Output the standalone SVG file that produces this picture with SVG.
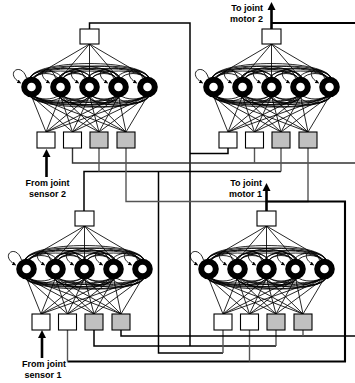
<svg xmlns="http://www.w3.org/2000/svg" xmlns:xlink="http://www.w3.org/1999/xlink" width="355" height="383" viewBox="0 0 355 383">
<style>
.bg{fill:#fff}
.box{fill:#fff;stroke:#000;stroke-width:1.1}
.gbox{fill:#c0c0c0;stroke:#000;stroke-width:1.1}
.neu{fill:#fff;stroke:#000;stroke-width:6}
.fan{fill:none;stroke:#000;stroke-width:0.85}
.arc{fill:none;stroke:#000;stroke-width:0.85}
.loop{fill:none;stroke:#000;stroke-width:0.85}
.w{fill:none;stroke:#000;stroke-width:1.5}
.wg{fill:none;stroke:#555;stroke-width:1.4}
.wd{fill:none;stroke:#333;stroke-width:1.4}
.wt{fill:none;stroke:#000;stroke-width:2.1}
.th{fill:none;stroke:#000;stroke-width:2.6}
.ah{fill:#000}
.lbl{font-family:"Liberation Sans",Arial,sans-serif;font-weight:bold;font-size:9px;fill:#000}
</style>
<defs>
<marker id="sa" viewBox="0 0 6 6" refX="5" refY="3" markerWidth="4" markerHeight="4" markerUnits="userSpaceOnUse" orient="auto">
<path d="M0,0 L6,3 L0,6 Z" fill="#000"/>
</marker>
<g id="net">
<!-- fan from output box to neurons -->
<path class="fan" d="M89.5,44 L31.5,78 M89.5,44 L60.5,78 M89.5,44 L89.5,78 M89.5,44 L118.5,78 M89.5,44 L147.5,78"/>
<!-- neurons to input boxes -->
<path class="fan" d="M31.5,96 L46,132 M31.5,96 L72.5,132 M31.5,96 L99,132 M31.5,96 L126,132
M60.5,96 L46,132 M60.5,96 L72.5,132 M60.5,96 L99,132 M60.5,96 L126,132
M89.5,96 L46,132 M89.5,96 L72.5,132 M89.5,96 L99,132 M89.5,96 L126,132
M118.5,96 L46,132 M118.5,96 L72.5,132 M118.5,96 L99,132 M118.5,96 L126,132
M147.5,96 L46,132 M147.5,96 L72.5,132 M147.5,96 L99,132 M147.5,96 L126,132"/>
<!-- upper recurrent arcs -->
<path class="arc" d="M33.5,79 C37.5,71.7 54.5,71.7 58.5,79 M33.5,79 C37.5,68.4 83.5,68.4 87.5,79 M33.5,79 C37.5,65 112.5,65 116.5,79 M33.5,79 C37.5,61.7 141.5,61.7 145.5,79
M62.5,79 C66.5,71.7 83.5,71.7 87.5,79 M62.5,79 C66.5,68.4 112.5,68.4 116.5,79 M62.5,79 C66.5,65 141.5,65 145.5,79
M91.5,79 C95.5,71.7 112.5,71.7 116.5,79 M91.5,79 C95.5,68.4 141.5,68.4 145.5,79
M120.5,79 C124.5,71.7 141.5,71.7 145.5,79"/>
<path class="arc" d="M29.5,79 C33.5,68.4 58.5,68.4 62.5,79 M29.5,79 C33.5,65 87.5,65 91.5,79 M29.5,79 C33.5,61.7 116.5,61.7 120.5,79 M29.5,79 C33.5,58.4 145.5,58.4 149.5,79
M58.5,79 C62.5,68.4 87.5,68.4 91.5,79 M58.5,79 C62.5,65 116.5,65 120.5,79 M58.5,79 C62.5,61.7 145.5,61.7 149.5,79
M87.5,79 C91.5,68.4 116.5,68.4 120.5,79 M87.5,79 C91.5,65 145.5,65 149.5,79
M116.5,79 C120.5,68.4 145.5,68.4 149.5,79"/>
<!-- lower recurrent arcs -->
<path class="arc" d="M33.5,95 C37.5,100.3 54.5,100.3 58.5,95 M33.5,95 C37.5,103 83.5,103 87.5,95 M33.5,95 C37.5,105.6 112.5,105.6 116.5,95 M33.5,95 C37.5,108.3 141.5,108.3 145.5,95
M62.5,95 C66.5,100.3 83.5,100.3 87.5,95 M62.5,95 C66.5,103 112.5,103 116.5,95 M62.5,95 C66.5,105.6 141.5,105.6 145.5,95
M91.5,95 C95.5,100.3 112.5,100.3 116.5,95 M91.5,95 C95.5,103 141.5,103 145.5,95
M120.5,95 C124.5,100.3 141.5,100.3 145.5,95"/>
<path class="arc" d="M29.5,95 C33.5,103 58.5,103 62.5,95 M29.5,95 C33.5,105.6 87.5,105.6 91.5,95 M29.5,95 C33.5,108.3 116.5,108.3 120.5,95 M29.5,95 C33.5,111 145.5,111 149.5,95
M58.5,95 C62.5,105.6 87.5,105.6 91.5,95 M58.5,95 C62.5,108.3 116.5,108.3 120.5,95 M58.5,95 C62.5,111 145.5,111 149.5,95
M87.5,95 C91.5,105.6 116.5,105.6 120.5,95 M87.5,95 C91.5,108.3 145.5,108.3 149.5,95
M116.5,95 C120.5,105.6 145.5,105.6 149.5,95"/>
<!-- self loops -->
<path class="loop" marker-end="url(#sa)" d="M26.5,78 C21.5,61 3.5,73 20.5,83"/>
<path class="loop" marker-end="url(#sa)" d="M55.5,78 C50.5,61 32.5,73 49.5,83"/>
<path class="loop" marker-end="url(#sa)" d="M84.5,78 C79.5,61 61.5,73 78.5,83"/>
<path class="loop" marker-end="url(#sa)" d="M113.5,78 C108.5,61 90.5,73 107.5,83"/>
<path class="loop" marker-end="url(#sa)" d="M142.5,78 C137.5,61 119.5,73 136.5,83"/>
<!-- neurons -->
<circle class="neu" cx="31.5" cy="87" r="7.3"/>
<circle class="neu" cx="60.5" cy="87" r="7.3"/>
<circle class="neu" cx="89.5" cy="87" r="7.3"/>
<circle class="neu" cx="118.5" cy="87" r="7.3"/>
<circle class="neu" cx="147.5" cy="87" r="7.3"/>
<!-- output box -->
<rect class="box" x="80" y="29" width="19" height="15"/>
<!-- input boxes -->
<rect class="box" x="37" y="132" width="18" height="16"/>
<rect class="box" x="63.5" y="132" width="18" height="16"/>
<rect class="gbox" x="90" y="132" width="18" height="16"/>
<rect class="gbox" x="117" y="132" width="18" height="16"/>
</g>
</defs>
<rect class="bg" x="0" y="0" width="355" height="383"/>
<g id="connectors">
<!-- module 1 output net -->
<polyline class="w" points="89.5,29 89.5,23 190,23 190,346"/>
<polyline class="w" points="94,330 94,346 276,346"/>
<polyline class="wg" points="276,330 276,346"/>
<polyline class="w" points="190,153.5 228,153.5 228,148"/>
<!-- module 2 output -->
<polyline class="wt" points="271.5,23 355,23"/>
<!-- net y=163 -->
<polyline class="wd" points="72.5,148 72.5,163 355,163"/>
<polyline class="wg" points="254.5,148 254.5,163"/>
<!-- module 3 output net -->
<polyline class="w" points="84,211 84,171.5 281,171.5"/>
<polyline class="wg" points="281,148 281,171.5"/>
<polyline class="wg" points="99,148 99,171.5"/>
<polyline class="w" points="158.5,171.5 158.5,353 223,353"/>
<polyline class="wg" points="223,330 223,353"/>
<!-- net y=201 -->
<polyline class="wg" points="126,148 126,201.5 308,201.5 308,148"/>
<!-- module 4 output net -->
<polyline class="wt" points="266.5,201.5 345,201.5 345,361.5 67.5,361.5"/>
<polyline class="wg" points="67.5,330 67.5,361.5"/>
<polyline class="wg" points="249.5,330 249.5,361.5"/>
<!-- net y=336 -->
<polyline class="w" points="121,330 121,336 355,336"/>
<polyline class="wg" points="303,330 303,336"/>
<!-- motor / sensor arrows -->
<line class="th" x1="271.5" y1="29" x2="271.5" y2="9"/>
<polygon class="ah" points="267.5,10 275.5,10 271.5,2"/>
<line class="th" x1="266.5" y1="211" x2="266.5" y2="190"/>
<polygon class="ah" points="262.5,191 270.5,191 266.5,183"/>
<line class="th" x1="46.5" y1="177" x2="46.5" y2="157"/>
<polygon class="ah" points="42.5,157 50.5,157 46.5,149"/>
<line class="th" x1="42" y1="358" x2="42" y2="338"/>
<polygon class="ah" points="38,338 46,338 42,330"/>
</g>
<g id="module1"><use xlink:href="#net" href="#net"/></g>
<g id="module2"><use xlink:href="#net" href="#net" transform="translate(182,0)"/></g>
<g id="module3"><use xlink:href="#net" href="#net" transform="translate(-5,182)"/></g>
<g id="module4"><use xlink:href="#net" href="#net" transform="translate(177,182)"/></g>
<g id="labels">
<text class="lbl" x="263" y="11" text-anchor="end">To joint</text>
<text class="lbl" x="263" y="22" text-anchor="end">motor 2</text>
<text class="lbl" x="262" y="186" text-anchor="end">To joint</text>
<text class="lbl" x="262" y="197" text-anchor="end">motor 1</text>
<text class="lbl" x="47.5" y="186" text-anchor="middle">From joint</text>
<text class="lbl" x="47.5" y="197" text-anchor="middle">sensor 2</text>
<text class="lbl" x="44" y="367" text-anchor="middle">From joint</text>
<text class="lbl" x="43" y="378" text-anchor="middle">sensor 1</text>
</g>
</svg>
